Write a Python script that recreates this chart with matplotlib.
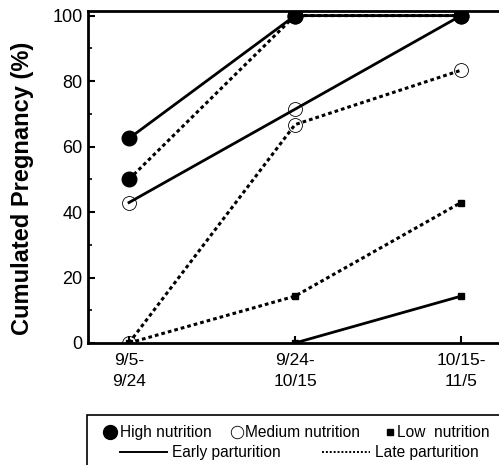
import numpy as np
import matplotlib.pyplot as plt
from matplotlib.lines import Line2D
from matplotlib.patches import Rectangle

plt.rcParams['font.family'] = ['Liberation Sans', 'DejaVu Sans']

periodos = ['9/5-\n9/24', '9/24-\n10/15', '10/15-\n11/5']
x = np.arange(len(periodos))

# prenhez acumulada (%) por nível nutricional e época de parição
alta_precoce = [62.5, 100, 100]
alta_tardia = [50, 100, 100]
media_precoce = [42.9, 71.4, 100]
media_tardia = [0, 66.7, 83.3]
baixa_precoce = [np.nan, 0, 14.3]
baixa_tardia = [0, 14.3, 42.9]

W, H = 499, 465
fig = plt.figure(figsize=(W / 100, H / 100), dpi=100)
ax = fig.add_axes([0.1764, 0.2624, 0.8236, 0.7139])

pontilhado = (0, (1.2, 1.0))
ax.plot(x, media_tardia, color='k', lw=2.2, ls=pontilhado, zorder=2)
ax.plot(x, media_precoce, color='k', lw=2, zorder=2)
ax.plot(x, media_tardia, ls='none', marker='o', ms=10, mfc='none', mec='k', mew=0.6, zorder=3)
ax.plot(x, media_precoce, ls='none', marker='o', ms=10, mfc='none', mec='k', mew=0.6, zorder=3)
ax.plot(x, baixa_tardia, color='k', lw=2.2, ls=pontilhado, marker='s', ms=4, zorder=3)
ax.plot(x, baixa_precoce, color='k', lw=2, marker='s', ms=4, zorder=3)
ax.plot(x, alta_tardia, color='k', lw=2.2, ls=pontilhado, marker='o', ms=10.5, zorder=4)
ax.plot(x, alta_precoce, color='k', lw=2, marker='o', ms=10.5, zorder=4)

ax.set_xlim(-0.247, 2.229)
ax.set_ylim(0, 101.4)
ax.set_xticks(x)
ax.set_xticklabels(periodos, fontsize=12.5, linespacing=1.55)
ax.set_yticks([0, 20, 40, 60, 80, 100])
ax.set_yticks([10, 30, 50, 70, 90], minor=True)
ax.tick_params(axis='y', labelsize=13, direction='in', length=5, width=1.5, pad=4)
ax.tick_params(axis='y', which='minor', direction='in', length=3, width=1.2)
ax.tick_params(axis='x', direction='in', length=5, width=1.5, pad=7)
for lado in ['left', 'bottom', 'top']:
    ax.spines[lado].set_linewidth(2)
ax.spines['right'].set_visible(False)
ax.set_ylabel('Cumulated Pregnancy (%)', fontsize=17, fontweight='bold')
ax.yaxis.set_label_coords(-0.131, 0.465)


# legenda montada à mão, posições em pixels
def fx(px):
    return px / W


def fy(py):
    return 1 - py / H


fig.patches.append(Rectangle((fx(87), -0.01), 0.83, fy(415) + 0.01, transform=fig.transFigure,
                             fill=False, edgecolor='k', lw=1.2))
y1, y2 = fy(432), fy(452)
fs = 11.2
fig.add_artist(Line2D([fx(110)], [y1], marker='o', ms=10, color='k', ls='none'))
fig.text(fx(120), y1, 'High nutrition', fontsize=fs, va='center')
fig.add_artist(Line2D([fx(237)], [y1], marker='o', ms=9, mfc='none', mec='k', mew=0.6, ls='none'))
fig.text(fx(245), y1, 'Medium nutrition', fontsize=fs, va='center')
fig.add_artist(Line2D([fx(390)], [y1], marker='s', ms=4, color='k', ls='none'))
fig.text(fx(397), y1, 'Low  nutrition', fontsize=fs, va='center')
fig.add_artist(Line2D([fx(120), fx(167)], [y2, y2], color='k', lw=1.4))
fig.text(fx(172), y2, 'Early parturition', fontsize=fs, va='center')
fig.add_artist(Line2D([fx(322), fx(370)], [y2, y2], color='k', lw=1.4, ls=(0, (1, 1))))
fig.text(fx(375), y2, 'Late parturition', fontsize=fs, va='center')

fig.savefig('out.png', dpi=100)
